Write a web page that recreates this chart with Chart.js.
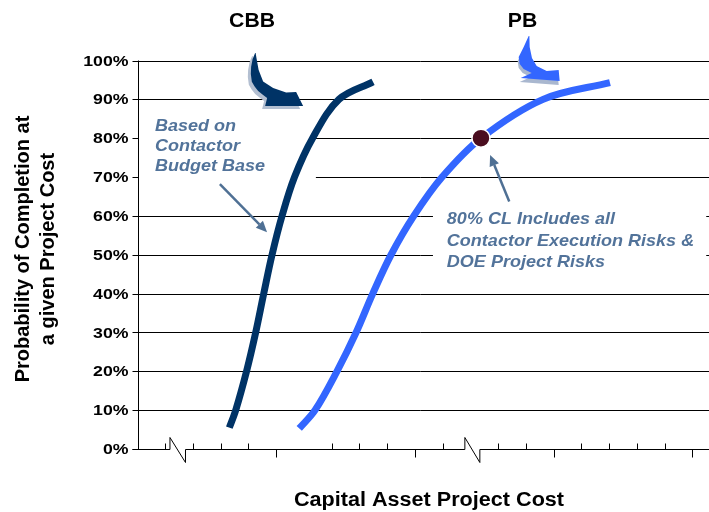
<!DOCTYPE html>
<html>
<head>
<meta charset="utf-8">
<script src="https://cdn.jsdelivr.net/npm/chart.js@4"></script>
<style>
  html, body { margin: 0; padding: 0; background: #fff; }
  #wrap { position: relative; width: 709px; height: 512px; }
</style>
</head>
<body>
<div id="wrap"><canvas id="chart"></canvas></div>
<script>
// ── Datos ──────────────────────────────────────────────────────────────────
const yTickValues = [0, 10, 20, 30, 40, 50, 60, 70, 80, 90, 100];
const yTickLabels = ['0%', '10%', '20%', '30%', '40%', '50%', '60%', '70%', '80%', '90%', '100%'];
const xMinorTicks = [1, 2, 3, 4, 7, 8, 9, 11, 13, 14, 16, 17, 18, 19];
const xMajorTicks = [5, 10, 15, 20];
const xBreaks     = [[1.17, 1.73], [11.8, 12.34]];

const cbbCost = [3.31, 3.54, 3.93, 4.26, 4.55, 4.85, 5.21, 5.66, 6.31, 7.26, 8.49];
const cbbProb = [5.5, 10, 20, 30, 40, 50, 60, 70, 80, 90, 94.5];
const pbCost  = [5.83, 6.40, 7.19, 7.88, 8.48, 9.14, 9.96, 10.98, 12.38, 14.62, 17.03];
const pbProb  = [5.3, 10, 20, 30, 40, 50, 60, 70, 80, 90, 94.3];
const clCost  = [12.38];
const clProb  = [80];

const seriesNames = ['CBB', 'PB'];
const xTitle = 'Capital Asset Project Cost';
const yTitle = ['Probability of Completion at', 'a given Project Cost'];

// ── Estilo ─────────────────────────────────────────────────────────────────
const FONT      = 'Arial, "Liberation Sans", sans-serif';
const NOTE_CLR  = '#52739a';
const CBB_CLR   = '#003366';
const PB_CLR    = '#3366ff';

// notas (posición en unidades de datos)
const notes = [
  { lines: ['Based on', 'Contactor', 'Budget Base'], x: 0.63, y: 81.9, lh: 20,
    arrow: [2.97, 68.2, 4.67, 55.8], box: [0.05, 88, 6.43, 66] },
  { lines: ['80% CL Includes all', 'Contactor Execution Risks &', 'DOE Project Risks'], x: 11.15, y: 57.9, lh: 21.5,
    arrow: [13.4, 63.7, 12.71, 75.7], box: [10.65, 68, 20.5, 45] },
];

// flechas curvas sobre cada serie (px relativos a la punta de la cola)
const bigArrows = [
  { x: 4.24, y: 101.9, color: CBB_CLR, shadow: '#b3bfd1', off: [-3, 3],
    pts: [[0,0],[-2.5,6],[-4,13.7],[-4.3,21],[-3.3,28.7],[-0.5,33.5],[3,38],[8,42],[12,45],
          [10,53],[48,53],[41,39],
          [31,39.5],[18,35],[8,28.5],[3.5,17],[1.5,6],[0.5,0]] },
  { x: 14.1, y: 106.3, color: PB_CLR, shadow: '#a9b7cf', off: [-1, 4],
    pts: [[0,0],[-5,11],[-10,21],[-9,28],[-5,33],[3,37],
          [-8,42],[31,45],[30,34],
          [18,35],[8,30],[3.3,22],[1,11],[0.7,0]] },
];

// ── Utils ──────────────────────────────────────────────────────────────────
function _txt(ctx, s, x, y, font, color, align = 'left', base = 'alphabetic', sx = 1.06) {
  ctx.save();
  ctx.translate(x, y);
  ctx.scale(sx, 1);
  ctx.font = font;
  ctx.fillStyle = color;
  ctx.textAlign = align;
  ctx.textBaseline = base;
  ctx.fillText(s, 0, 0);
  ctx.restore();
}

function _arrow(ctx, x1, y1, x2, y2, color) {
  const ang = Math.atan2(y2 - y1, x2 - x1);
  const hl = 11, hw = 5;
  const bx = x2 - Math.cos(ang) * hl, by = y2 - Math.sin(ang) * hl;
  ctx.save();
  ctx.strokeStyle = color;
  ctx.fillStyle = color;
  ctx.lineWidth = 2.5;
  ctx.beginPath();
  ctx.moveTo(x1, y1);
  ctx.lineTo(bx, by);
  ctx.stroke();
  ctx.beginPath();
  ctx.moveTo(x2, y2);
  ctx.lineTo(bx + Math.sin(ang) * hw, by - Math.cos(ang) * hw);
  ctx.lineTo(bx - Math.sin(ang) * hw, by + Math.cos(ang) * hw);
  ctx.closePath();
  ctx.fill();
  ctx.restore();
}

function _poly(ctx, ox, oy, pts, color) {
  ctx.fillStyle = color;
  ctx.beginPath();
  pts.forEach(([dx, dy], i) => i ? ctx.lineTo(ox + dx, oy + dy) : ctx.moveTo(ox + dx, oy + dy));
  ctx.closePath();
  ctx.fill();
}

// ── Plugin: ejes, rejilla, notas ───────────────────────────────────────────
const decor = {
  id: 'decor',
  beforeDatasetsDraw(chart) {
    const { ctx, chartArea: a, scales: { x, y } } = chart;
    const crisp = v => Math.round(v) + 0.5;
    ctx.save();

    // rejilla + marcas del eje y
    ctx.strokeStyle = '#000';
    ctx.lineWidth = 1;
    yTickValues.forEach(v => {
      const py = crisp(y.getPixelForValue(v));
      ctx.beginPath();
      ctx.moveTo(a.left - 5, py);
      ctx.lineTo(a.right, py);
      ctx.stroke();
    });

    // cajas blancas bajo las notas
    ctx.fillStyle = '#fff';
    notes.forEach(n => {
      const [x1, y1, x2, y2] = n.box;
      const l = Math.max(x.getPixelForValue(x1), a.left + 1);
      ctx.fillRect(l, y.getPixelForValue(y1), x.getPixelForValue(x2) - l, y.getPixelForValue(y2) - y.getPixelForValue(y1));
    });

    // eje y
    const ax = crisp(a.left);
    ctx.beginPath();
    ctx.moveTo(ax, a.top);
    ctx.lineTo(ax, crisp(a.bottom));
    ctx.stroke();

    // eje x con cortes
    const by = crisp(a.bottom);
    ctx.fillStyle = '#fff';
    ctx.fillRect(a.left + 2, a.bottom - 1, a.right - a.left, 3);
    ctx.beginPath();
    ctx.moveTo(a.left - 5, by);
    xBreaks.forEach(([b1, b2]) => {
      const p1 = x.getPixelForValue(b1), p2 = x.getPixelForValue(b2);
      ctx.lineTo(p1, by);
      ctx.lineTo(p1, by - 12);
      ctx.lineTo(p2, by + 13);
      ctx.lineTo(p2, by);
    });
    ctx.lineTo(a.right, by);
    ctx.stroke();

    xMinorTicks.forEach(v => {
      const px = crisp(x.getPixelForValue(v));
      ctx.beginPath();
      ctx.moveTo(px, by - 6);
      ctx.lineTo(px, by);
      ctx.stroke();
    });
    xMajorTicks.forEach(v => {
      const px = crisp(x.getPixelForValue(v));
      ctx.beginPath();
      ctx.moveTo(px, by);
      ctx.lineTo(px, by + 8);
      ctx.stroke();
    });

    // etiquetas eje y
    yTickValues.forEach((v, i) => {
      _txt(ctx, yTickLabels[i], a.left - 9, y.getPixelForValue(v) + 1, `bold 15px ${FONT}`, '#000', 'right', 'middle', 1.18);
    });

    // notas y flechas
    notes.forEach(n => {
      const px = x.getPixelForValue(n.x), py = y.getPixelForValue(n.y);
      n.lines.forEach((s, i) => _txt(ctx, s, px, py + i * n.lh, `italic bold 17px ${FONT}`, NOTE_CLR));
      const [x1, y1, x2, y2] = n.arrow;
      _arrow(ctx, x.getPixelForValue(x1), y.getPixelForValue(y1), x.getPixelForValue(x2), y.getPixelForValue(y2), '#4f7094');
    });

    ctx.restore();
  },
  afterDatasetsDraw(chart) {
    const { ctx, scales: { x, y } } = chart;
    ctx.save();

    bigArrows.forEach(b => {
      const ox = x.getPixelForValue(b.x), oy = y.getPixelForValue(b.y);
      _poly(ctx, ox + b.off[0], oy + b.off[1], b.pts, b.shadow);
      _poly(ctx, ox, oy, b.pts, b.color);
    });

    // nombres de serie arriba
    _txt(ctx, seriesNames[0], x.getPixelForValue(4.13), y.getPixelForValue(108.5), `bold 20px ${FONT}`, '#000', 'center');
    _txt(ctx, seriesNames[1], x.getPixelForValue(13.88), y.getPixelForValue(108.5), `bold 20px ${FONT}`, '#000', 'center');

    // títulos de ejes
    _txt(ctx, xTitle, 429, 506, `bold 20px ${FONT}`, '#000', 'center', 'alphabetic', 1.08);
    ctx.save();
    ctx.translate(0, 249);
    ctx.rotate(-Math.PI / 2);
    ctx.font = `bold 20px ${FONT}`;
    ctx.fillStyle = '#000';
    ctx.textAlign = 'center';
    ctx.textBaseline = 'middle';
    yTitle.forEach((s, i) => ctx.fillText(s, 0, 23 + i * 25));
    ctx.restore();

    ctx.restore();
  },
};

// ── Chart ──────────────────────────────────────────────────────────────────
const _pts = (xs, ys) => xs.map((v, i) => ({ x: v, y: ys[i] }));

new Chart(document.getElementById('chart'), {
  type: 'line',
  data: {
    datasets: [
      {
        label: '80% CL',
        data: _pts(clCost, clProb),
        showLine: false,
        pointRadius: 9,
        pointBackgroundColor: '#4a0d1f',
        pointBorderColor: '#ffffff',
        pointBorderWidth: 1.5,
      },
      {
        label: seriesNames[0],
        data: _pts(cbbCost, cbbProb),
        borderColor: CBB_CLR,
        borderWidth: 7,
        borderCapStyle: 'butt',
        pointRadius: 0,
        tension: 0.35,
      },
      {
        label: seriesNames[1],
        data: _pts(pbCost, pbProb),
        borderColor: PB_CLR,
        borderWidth: 7,
        borderCapStyle: 'butt',
        pointRadius: 0,
        tension: 0.35,
      },
    ],
  },
  options: {
    responsive: true,
    maintainAspectRatio: false,
    animation: false,
    layout: { autoPadding: false, padding: { left: 137.5, right: 0, top: 60.5, bottom: 63 } },
    plugins: { legend: { display: false }, tooltip: { enabled: false } },
    scales: {
      x: { type: 'linear', display: false, min: 0, max: 20.6 },
      y: { type: 'linear', display: false, min: 0, max: 100 },
    },
  },
  plugins: [decor],
});
</script>
</body>
</html>
